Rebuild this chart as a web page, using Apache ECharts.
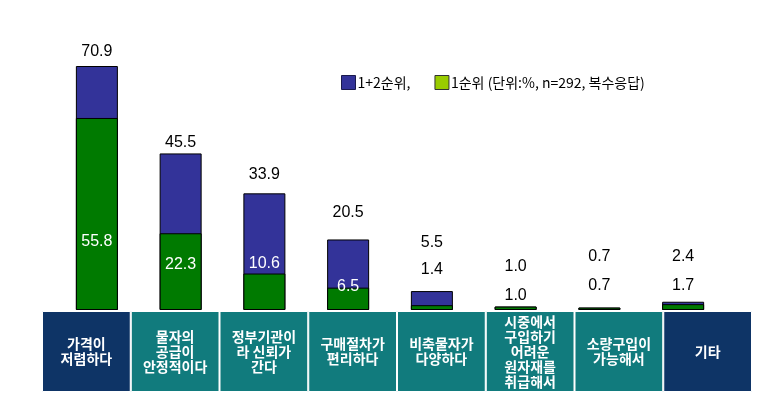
<!DOCTYPE html>
<html><head><meta charset="utf-8">
<script src="https://cdn.jsdelivr.net/npm/echarts@6/dist/echarts.min.js"></script>
<style>html,body{margin:0;padding:0;background:#fff}#c{width:778px;height:412px}</style>
</head><body><div id="c"></div>
<script>
const categories = ['가격이\n저렴하다','물자의\n공급이\n안정적이다','정부기관이\n라 신뢰가\n간다','구매절차가\n편리하다','비축물자가\n다양하다','시중에서\n구입하기\n어려운\n원자재를\n취급해서','소량구입이\n가능해서','기타'];
const rank12 = [70.9, 45.5, 33.9, 20.5, 5.5, 1.0, 0.7, 2.4];
const rank1 = [55.8, 22.3, 10.6, 6.5, 1.4, 1.0, 0.7, 1.7];
const seriesNames = ['1+2순위,', '1순위 (단위:%, n=292, 복수응답)'];

// label placement (style only): distance of label centre above the baseline, px
const lab12Lift = [258, 167, 135, 97, 67, 43, 53, 53];
const lab1Lift = [68, 45, 46, 23, 40, 14, 24, 24];
const lab1Inside = [true, true, true, true, false, false, false, false];
const boxColors = ['#0E3466','#117B7D','#117B7D','#117B7D','#117B7D','#117B7D','#117B7D','#0E3466'];

const chart = echarts.init(document.getElementById('c'), null, {renderer:'canvas'});
const valFont = {fontFamily:'Liberation Sans, Arial, sans-serif', fontSize:16};
function mkLabel(lift, color){
  return Object.assign({show:true, position:['50%','100%'], offset:[0,-lift], align:'center', verticalAlign:'middle', color:color,
    formatter:(p)=>Number(p.value).toFixed(1)}, valFont);
}
chart.setOption({
  animation:false,
  backgroundColor:'#fff',
  legend:{
    left:336, top:70, itemWidth:14, itemHeight:14, itemGap:24, icon:'rect',
    textStyle:{fontFamily:'Noto Sans CJK KR, sans-serif', fontSize:14, color:'#000', padding:[0,0,0,-3]},
    data:[
      {name:seriesNames[0], itemStyle:{color:'#333399', borderColor:'#1a1a4d', borderWidth:1}},
      {name:seriesNames[1], itemStyle:{color:'#99CC00', borderColor:'#333', borderWidth:1}}
    ]
  },
  grid:[
    {left:55, right:53, top:34.7, bottom:102},
    {left:42, right:26, top:311, bottom:20}
  ],
  xAxis:[
    {type:'category', gridIndex:0, data:categories, show:false},
    {type:'category', gridIndex:1, data:categories, show:false}
  ],
  yAxis:[
    {type:'value', gridIndex:0, min:0, max:80, show:false},
    {type:'value', gridIndex:1, min:0, max:1, show:false}
  ],
  series:[
    {name:seriesNames[0], type:'bar', xAxisIndex:0, yAxisIndex:0, barWidth:42, barGap:'-100%',
     itemStyle:{color:'#333399', borderColor:'#000', borderWidth:1},
     data: rank12.map((v,i)=>({value:v, label:mkLabel(lab12Lift[i], '#000')}))},
    {name:seriesNames[1], type:'bar', xAxisIndex:0, yAxisIndex:0, barWidth:42, barGap:'-100%',
     itemStyle:{color:'#007A00', borderColor:'#000', borderWidth:1},
     data: rank1.map((v,i)=>({value:v, label:mkLabel(lab1Lift[i], lab1Inside[i]?'#fff':'#000')}))},
    {name:'boxes', type:'bar', xAxisIndex:1, yAxisIndex:1, barCategoryGap:0, barWidth:'100%',
     silent:true,
     data: categories.map((c,i)=>({value:1, itemStyle:{color:boxColors[i], borderColor:'#fff', borderWidth:1}})),
     label:{show:true, position:'inside', color:'#fff', fontFamily:'Noto Sans CJK KR, sans-serif', fontSize:14, fontWeight:'bold', lineHeight:15,
       formatter:(p)=>categories[p.dataIndex]}}
  ]
});
</script></body></html>
